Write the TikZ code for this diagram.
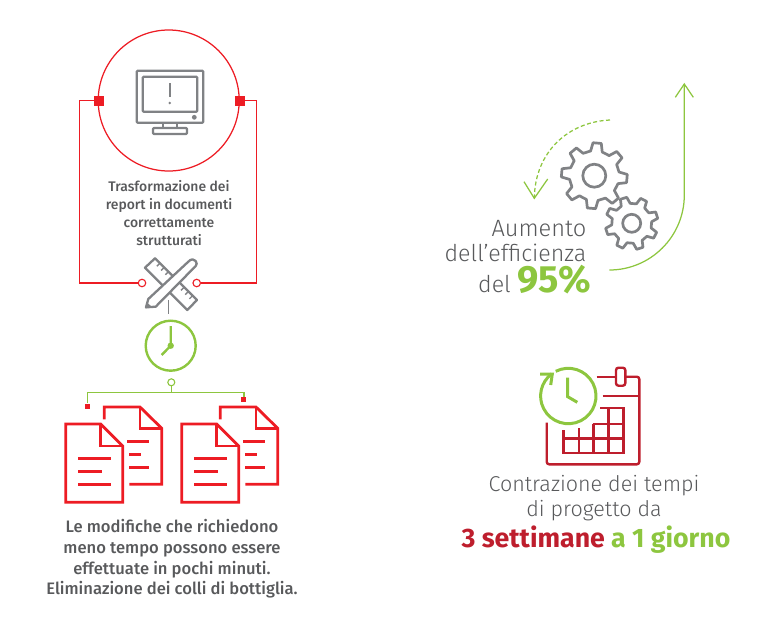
\documentclass[tikz,border=0pt]{standalone}
\usepackage{fontspec}
\setmainfont{Fira Sans}
\newfontfamily\lightfont{Fira Sans Light}
\newfontfamily\medfont{Fira Sans Medium}
\newfontfamily\boldfont{Fira Sans Bold}
\usetikzlibrary{positioning}
\definecolor{rosso}{HTML}{ED1C24}
\definecolor{cremisi}{HTML}{BE1E2D}
\definecolor{verde}{HTML}{8DC63F}
\definecolor{grigio}{HTML}{808285}
\definecolor{testo}{HTML}{58595B}
\tikzset{
  redline/.style={draw=rosso, line width=1.25pt},
  greenline/.style={draw=verde, line width=1.25pt},
  greenthick/.style={draw=verde, line width=2.4pt},
  grayicon/.style={draw=grigio, line width=2.3pt, line join=round},
  gearline/.style={draw=grigio, line width=2.7pt, line join=round},
  docline/.style={draw=rosso, line width=2.8pt},
  calline/.style={draw=cremisi, line width=2.4pt},
  redsquare/.style={fill=rosso, inner sep=0pt, minimum size=#1},
  ringred/.style={circle, draw=rosso, fill=white, line width=1.1pt, inner sep=0pt, minimum size=7.5pt},
  ringgreen/.style={circle, draw=verde, fill=white, line width=1.1pt, inner sep=0pt, minimum size=7pt},
  labelsmall/.style={text=testo, align=center, font=\medfont\fontsize{13.9}{18}\selectfont},
  labelmid/.style={text=testo, align=center, font=\medfont\fontsize{16.6}{20.6}\selectfont},
  labellight/.style={text=testo, inner sep=0pt, font=\lightfont\fontsize{#1}{24}\selectfont}
}
% gear outline: x, y, root radius, tip radius, teeth, offset
\newcommand{\gearshape}[6]{
  \draw[gearline] ({#1+#3*cos(#6-0.30*360/#5)},{#2+#3*sin(#6-0.30*360/#5)})
    \foreach \k [evaluate=\k as \a using \k*360/#5+#6] in {1,...,#5} {
      -- ({#1+#3*cos(\a-360/#5-0.30*360/#5)},{#2+#3*sin(\a-360/#5-0.30*360/#5)})
      -- ({#1+#4*cos(\a-360/#5-0.16*360/#5)},{#2+#4*sin(\a-360/#5-0.16*360/#5)})
      -- ({#1+#4*cos(\a-360/#5+0.16*360/#5)},{#2+#4*sin(\a-360/#5+0.16*360/#5)})
      -- ({#1+#3*cos(\a-360/#5+0.30*360/#5)},{#2+#3*sin(\a-360/#5+0.30*360/#5)})
    } -- cycle;
}
\begin{document}
\begin{tikzpicture}[x=1pt, y=-1pt]
\useasboundingbox (0,0) rectangle (768,640);

% top circle and its red connectors
\node [circle, draw=rosso, line width=1.25pt, minimum size=141pt, inner sep=0pt] (screen) at (168.7,100.5) {};
\node [redsquare=10pt] (sqleft) at (99,100.5) {};
\node [redsquare=10pt] (sqright) at (240,100.5) {};
\node [ringred] (ringleft) at (142,283) {};
\node [ringred] (ringright) at (196.7,283) {};
\coordinate (cornerlt) at (79.7,100.5);
\coordinate (cornerlb) at (79.7,283);
\coordinate (cornerrt) at (256.7,100.5);
\coordinate (cornerrb) at (256.7,283);
\draw [redline] (sqleft) -- (cornerlt) -- (cornerlb) -- (ringleft);
\draw [redline] (sqright) -- (cornerrt) -- (cornerrb) -- (ringright);

% monitor
\draw [grayicon, rounded corners=1pt] (136.7,70.7) rectangle (203.3,122.7);
\draw [grayicon, rounded corners=1pt] (142.7,76.7) rectangle (197.3,111.7);
\draw [draw=grigio, line width=1.6pt] (169.7,83) -- (169.7,97);
\fill [grigio] (169.7,103) circle (1.4);
\fill [grigio] (194.3,117.3) circle (2.4);
\draw [grayicon] (163.3,122.7) -- (163.3,128) (176.7,122.7) -- (176.7,128);
\draw [grayicon, rounded corners=1pt] (153,128) rectangle (187,134);

\node [labelsmall] (report) at (169,213) {Trasformazione dei\\report in documenti\\correttamente\\strutturati};

% ruler and pencil
\draw [grayicon] (145,267.7) -- (155,258.3) -- (197,300) -- (187.3,310) -- cycle;
\foreach \t in {7,13,19,25,41,47,53} {
  \draw [draw=grigio, line width=1.4pt] (155+0.707*\t,258.3+0.707*\t) -- ++(-3,3);
}
\draw [grayicon, fill=white] (188.3,261.7) .. controls (191,258.5) and (194.5,259) .. (195.7,261) .. controls (197,263) and (197,265) .. (195.7,266) -- (155.7,306.7) -- (146,307.3) -- (148.3,299) -- cycle;
\fill [grigio] (145.5,308.5) -- (147.2,302.5) -- (151.5,306.7) -- cycle;

% stem and green clock
\coordinate (stemtop) at (168.7,300);
\coordinate (stembot) at (168.7,314.3);
\draw [draw=grigio, line width=1.4pt] (stemtop) -- (stembot);
\node [circle, greenthick, minimum size=50pt, inner sep=0pt] (clock) at (170.7,345.7) {};
\fill [verde] (clock.center) circle (3.2);
\draw [greenthick] (170.7,326) -- (clock.center) -- (161.7,355);

% green branch to the documents
\node [ringgreen] (ringbranch) at (171.3,382.3) {};
\node [redsquare=5pt] (sqdocleft) at (87.6,406.7) {};
\node [redsquare=5pt] (sqdocright) at (243.7,399.5) {};
\coordinate (branch) at (171.3,392.7);
\coordinate (branchl) at (87.3,392.7);
\coordinate (branchr) at (244,392.7);
\coordinate (endl) at (87.3,403);
\coordinate (endr) at (244,396.7);
\draw [greenline] (ringbranch) -- (branch);
\draw [greenline] (endl) -- (branchl) -- (branchr) -- (endr);

% the two pairs of documents
\foreach \dx in {0,116} {
  \begin{scope}[xshift=\dx pt]
    \draw [docline] (104.3,419.3) -- (104.3,407) -- (140,407) -- (161.7,428.3) -- (161.7,484.3) -- (129.3,484.3);
    \draw [docline] (140,407) -- (140,428.3) -- (161.7,428.3);
    \draw [docline] (127.3,441.7) -- (149.3,441.7) (129.3,454.3) -- (141,454.3) (129.3,467.3) -- (149.3,467.3);
    \draw [docline] (65.7,424) -- (100.7,424) -- (122.7,446) -- (122.7,502.3) -- (65.7,502.3) -- cycle;
    \draw [docline] (100.7,424) -- (100.7,446) -- (122.7,446);
    \draw [docline] (78,458.7) -- (111,458.7) (78,471.7) -- (102.3,471.7) (78,484.3) -- (111,484.3);
  \end{scope}
}

\node [labelmid] (modifiche) at (172,559) {Le modifiche che richiedono\\meno tempo possono essere\\effettuate in pochi minuti.\\Eliminazione dei colli di bottiglia.};

% efficiency arrows and gears
\coordinate (uptail) at (609.3,270);
\coordinate (uptip) at (684.3,84);
\draw [greenline] (uptail) arc[start angle=90, end angle=0, radius=75] -- (uptip);
\draw [greenline] (675.3,97.3) -- (uptip) -- (693.3,97.3);
\coordinate (dashtail) at (610,120);
\coordinate (dashtip) at (534.3,198.3);
\draw [greenline, dash pattern=on 4pt off 2.5pt] (dashtail) .. controls (568,122) and (535,152) .. (dashtip);
\draw [greenline] (524,181.7) -- (dashtip) -- (547.7,179);
\gearshape{594.3}{175.7}{25}{33}{8}{5}
\draw [gearline] (594.3,175.7) circle (11.5);
\gearshape{631.7}{223.3}{20}{26.5}{8}{27}
\draw [gearline] (631.7,223.3) circle (9);

\node [labellight=23.6, anchor=base east] (aumento) at (586.5,236) {Aumento};
\node [labellight=23.2, anchor=base east] (efficienza) at (586.5,261) {dell’efficienza};
\node [labellight=23.2, anchor=base east] (percento) at (591,292) {del \textcolor{verde}{\boldfont\fontsize{38}{40}\selectfont 95\%}};

% calendar
\draw [calline, rounded corners=2.5pt] (546.7,422.7) -- (546.7,464.3) -- (639.3,464.3) -- (639.3,376.7) -- (625.7,376.7);
\draw [calline] (596.7,376.7) -- (616,376.7);
\draw [calline, rounded corners=2.5pt] (616,367.7) rectangle (625.3,385.7);
\draw [calline] (602.7,395.7) -- (639.3,395.7);
\draw [calline] (563.3,430) -- (563.3,452.7) -- (623.3,452.7) -- (623.3,407.7) -- (600,407.7);
\draw [calline] (563.3,438.3) -- (623.3,438.3);
\draw [calline] (579,428) -- (579,452.7);
\draw [calline] (593.3,424) -- (593.3,452.7);
\draw [calline] (608.3,407.7) -- (608.3,452.7);
\draw [calline] (592.5,424) -- (623.3,424);

% clock on the calendar
\draw [greenthick, line width=3pt] (568.3,396) ++(-117:27.7) arc[start angle=-117, end angle=233.5, radius=27.7];
\draw [greenthick, line width=3pt] (540,374) -- (552.3,374) -- (550.7,385);
\draw [greenthick, line width=3pt] (567.7,377.7) -- (567.7,396.7) -- (577.3,402.3);

\node [labellight=21.5, anchor=base] (contrazione) at (594,491) {Contrazione dei tempi};
\node [labellight=21.5, anchor=base] (progetto) at (594,516) {di progetto da};
\node [anchor=base, font=\boldfont\fontsize{26.7}{30}\selectfont] (settimane) at (596,547) {\textcolor{cremisi}{3 settimane} \textcolor{verde}{a 1 giorno}};
\end{tikzpicture}
\end{document}
